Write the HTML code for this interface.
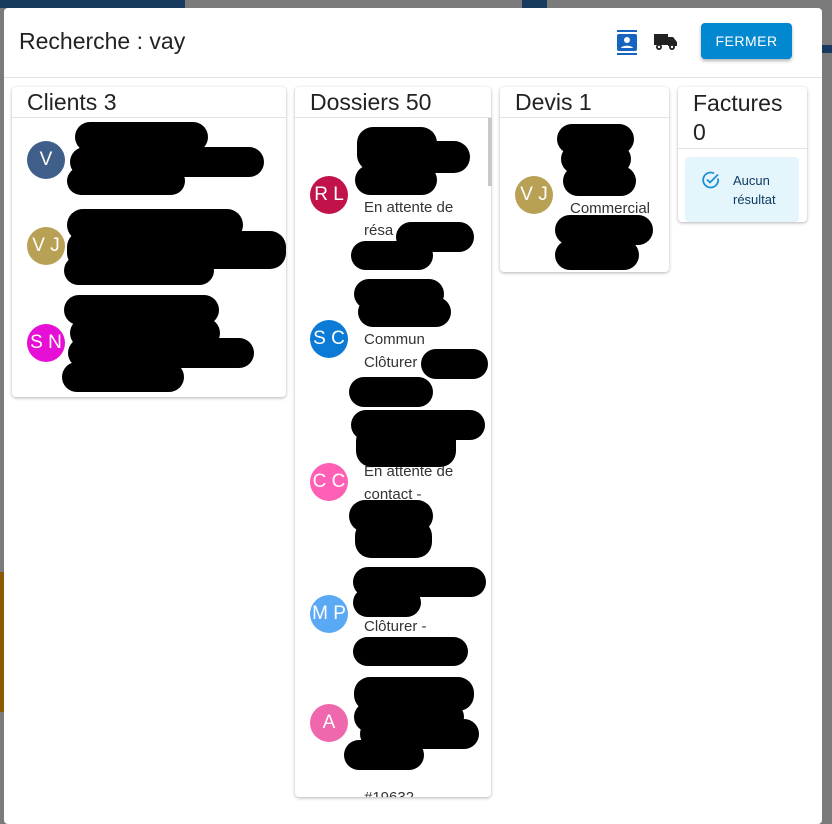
<!DOCTYPE html>
<html><head><meta charset="utf-8"><style>
*{margin:0;padding:0;box-sizing:border-box}
body{width:832px;height:822px;overflow:hidden;background:#7b7b7b;font-family:"Liberation Sans",sans-serif;position:relative}
.a{position:absolute}
.dlg{left:4px;top:8px;width:818px;height:816px;background:#fff;border-radius:4px}
.card{background:#fff;border-radius:4px;box-shadow:0 1px 3px rgba(0,0,0,.3)}
.h{font-size:23px;color:#222;}
.av{width:38px;height:38px;border-radius:50%;color:#fff;font-size:19px;text-align:center;line-height:38px}
.b{background:#000;border-radius:16px}
.t{font-size:15px;color:#333;line-height:23px}
.hr{height:1px;background:#e3e3e3}
</style></head><body>
<div class="a" style="left:0;top:0;width:832px;height:8px;background:#7b7b7b"></div>
<div class="a" style="left:0;top:0;width:185px;height:8px;background:#183a5e"></div>
<div class="a" style="left:522px;top:0;width:25px;height:8px;background:#183a5e"></div>
<div class="a" style="left:822px;top:45px;width:10px;height:8px;background:#183a5e"></div>
<div class="a" style="left:0;top:572px;width:4px;height:140px;background:#8a5a00"></div>

<div class="a dlg"></div>
<div class="a" style="left:19px;top:28px;font-size:23px;color:#222">Recherche : vay</div>
<svg class="a" style="left:616px;top:30px" width="22" height="25" viewBox="0 0 22 25"><rect x="1" y="0" width="20" height="2" fill="#1565c0"/><rect x="1" y="23" width="20" height="2" fill="#1565c0"/><rect x="1" y="4" width="20" height="17" rx="2" fill="#1565c0"/><circle cx="11" cy="10" r="3" fill="#fff"/><path d="M5 18c1-3 11-3 12 0z" fill="#fff"/></svg>
<svg class="a" style="left:654px;top:33px" width="24" height="18" viewBox="0 0 24 18"><rect x="0" y="1" width="14" height="11" fill="#222"/><path d="M14 4h5l4 5v4h-9z" fill="#222"/><circle cx="5" cy="14" r="3" fill="#222"/><circle cx="18" cy="14" r="3" fill="#222"/><circle cx="5" cy="14" r="1.2" fill="#fff"/><circle cx="18" cy="14" r="1.2" fill="#fff"/></svg>
<div class="a" style="left:701px;top:23px;width:91px;height:36px;background:#0288d1;border-radius:4px;color:#fff;font-size:14px;text-align:center;line-height:36px;box-shadow:0 2px 3px rgba(0,0,0,.3);letter-spacing:.5px">FERMER</div>
<div class="a hr" style="left:4px;top:77px;width:818px"></div>

<div class="a card" style="left:12px;top:87px;width:274px;height:310px"></div>
<div class="a h" style="left:27px;top:89px">Clients 3</div>
<div class="a hr" style="left:12px;top:117px;width:274px"></div>
<div class="a av" style="left:27px;top:141px;background:#3f5f8a">V</div>
<div class="a av" style="left:27px;top:227px;background:#b8a055">V J</div>
<div class="a av" style="left:27px;top:324px;background:#e60fd5">S N</div>
<div class="a b" style="left:75px;top:122px;width:133px;height:30px"></div>
<div class="a b" style="left:70px;top:147px;width:194px;height:30px"></div>
<div class="a b" style="left:67px;top:167px;width:118px;height:28px"></div>
<div class="a b" style="left:67px;top:209px;width:176px;height:32px"></div>
<div class="a b" style="left:67px;top:231px;width:219px;height:38px"></div>
<div class="a b" style="left:64px;top:256px;width:150px;height:29px"></div>
<div class="a b" style="left:64px;top:295px;width:155px;height:30px"></div>
<div class="a b" style="left:70px;top:318px;width:150px;height:30px"></div>
<div class="a b" style="left:68px;top:338px;width:186px;height:30px"></div>
<div class="a b" style="left:62px;top:362px;width:122px;height:30px"></div>

<div class="a card" style="left:295px;top:87px;width:196px;height:710px;overflow:hidden">
<div class="a t" style="left:69px;top:699px">#19632 -</div></div>
<div class="a h" style="left:310px;top:89px">Dossiers 50</div>
<div class="a hr" style="left:295px;top:117px;width:196px"></div>
<div class="a" style="left:488px;top:118px;width:4px;height:68px;background:#c8c8c8"></div>
<div class="a av" style="left:310px;top:176px;background:#c2124a">R L</div>
<div class="a av" style="left:310px;top:320px;background:#0c7bd6">S C</div>
<div class="a av" style="left:310px;top:463px;background:#ff5fb4">C C</div>
<div class="a av" style="left:310px;top:595px;background:#5aa9f5">M P</div>
<div class="a av" style="left:310px;top:704px;background:#ef68ad">A</div>
<div class="a t" style="left:364px;top:196px">En attente de<br>résa</div>
<div class="a t" style="left:364px;top:328px">Commun<br>Clôturer</div>
<div class="a t" style="left:364px;top:460px">En attente de<br>contact -</div>
<div class="a t" style="left:364px;top:615px">Clôturer -</div>
<div class="a b" style="left:357px;top:127px;width:80px;height:44px"></div>
<div class="a b" style="left:360px;top:141px;width:110px;height:32px"></div>
<div class="a b" style="left:355px;top:165px;width:82px;height:30px"></div>
<div class="a b" style="left:396px;top:222px;width:78px;height:30px"></div>
<div class="a b" style="left:351px;top:241px;width:82px;height:29px"></div>
<div class="a b" style="left:354px;top:279px;width:90px;height:30px"></div>
<div class="a b" style="left:358px;top:297px;width:93px;height:30px"></div>
<div class="a b" style="left:421px;top:349px;width:67px;height:30px"></div>
<div class="a b" style="left:349px;top:377px;width:84px;height:30px"></div>
<div class="a b" style="left:351px;top:410px;width:134px;height:30px"></div>
<div class="a b" style="left:356px;top:425px;width:100px;height:42px"></div>
<div class="a b" style="left:349px;top:500px;width:84px;height:32px"></div>
<div class="a b" style="left:355px;top:520px;width:77px;height:38px"></div>
<div class="a b" style="left:353px;top:567px;width:133px;height:30px"></div>
<div class="a b" style="left:353px;top:588px;width:68px;height:29px"></div>
<div class="a b" style="left:353px;top:637px;width:115px;height:29px"></div>
<div class="a b" style="left:354px;top:677px;width:120px;height:34px"></div>
<div class="a b" style="left:354px;top:702px;width:110px;height:30px"></div>
<div class="a b" style="left:360px;top:719px;width:119px;height:30px"></div>
<div class="a b" style="left:344px;top:740px;width:80px;height:30px"></div>

<div class="a card" style="left:500px;top:87px;width:169px;height:185px"></div>
<div class="a h" style="left:515px;top:89px">Devis 1</div>
<div class="a hr" style="left:500px;top:117px;width:169px"></div>
<div class="a av" style="left:515px;top:176px;background:#b8a055">V J</div>
<div class="a t" style="left:570px;top:197px">Commercial</div>
<div class="a b" style="left:557px;top:124px;width:77px;height:30px"></div>
<div class="a b" style="left:561px;top:144px;width:70px;height:30px"></div>
<div class="a b" style="left:563px;top:166px;width:73px;height:30px"></div>
<div class="a b" style="left:555px;top:215px;width:98px;height:30px"></div>
<div class="a b" style="left:555px;top:240px;width:84px;height:30px"></div>

<div class="a card" style="left:678px;top:87px;width:129px;height:135px"></div>
<div class="a h" style="left:693px;top:89px;line-height:29px">Factures<br>0</div>
<div class="a hr" style="left:678px;top:148px;width:129px"></div>
<div class="a" style="left:685px;top:157px;width:114px;height:65px;background:#e5f5fc;border-radius:4px"></div>
<svg class="a" style="left:701px;top:170px" width="20" height="20" viewBox="0 0 20 20"><path d="M17 8.5A7.5 7.5 0 1 1 13 3.3" fill="none" stroke="#1e90d8" stroke-width="1.8"/><path d="M6 9.5l3 3 8-8" fill="none" stroke="#1e90d8" stroke-width="1.8"/></svg>
<div class="a" style="left:733px;top:171px;font-size:13px;color:#0d3c61;line-height:19px">Aucun<br>résultat</div>
</body></html>
